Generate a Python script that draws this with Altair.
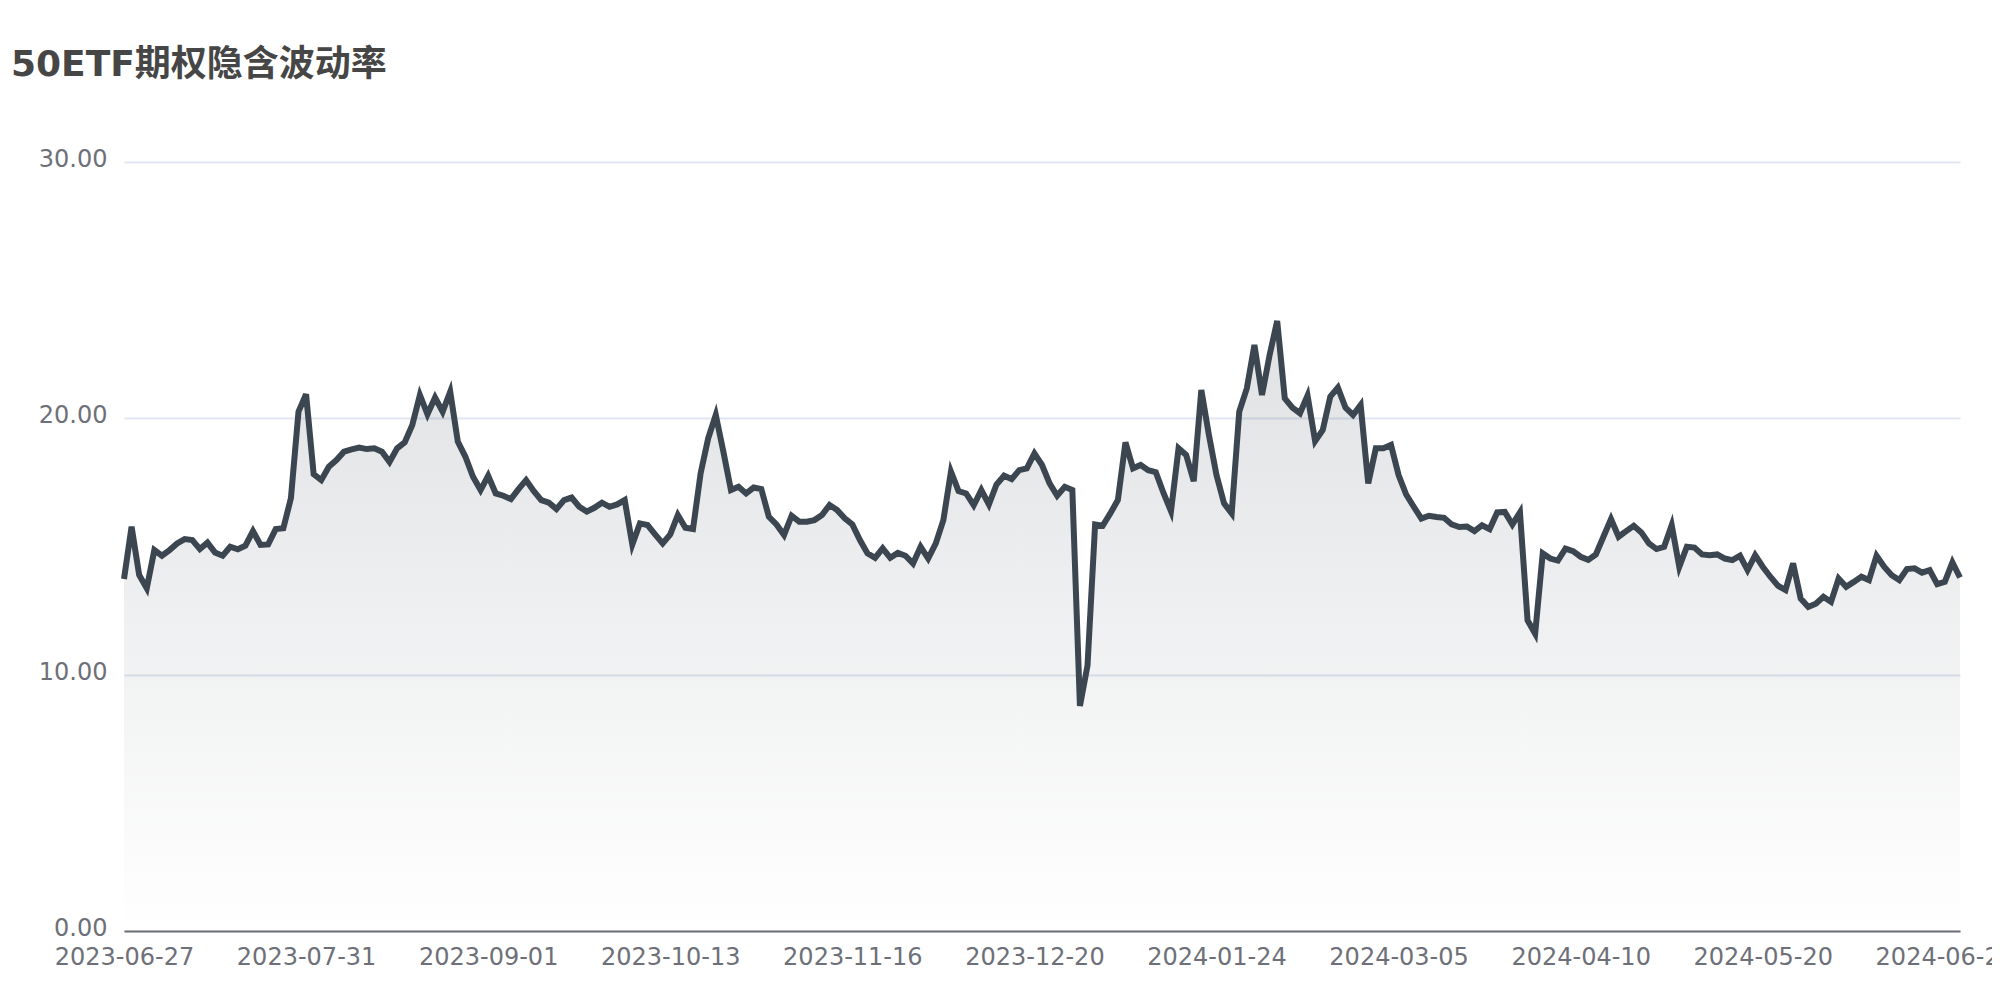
import altair as alt
import pandas as pd

# Implied volatility of 50ETF options, one value per trading day (index 0 = 2023-06-27)
iv_2023_jun_aug = [13.73, 15.77, 13.89, 13.37, 14.86, 14.64, 14.86, 15.12, 15.29, 15.25,
                   14.90, 15.15, 14.76, 14.64, 14.99, 14.89, 15.03, 15.60, 15.06, 15.08,
                   15.68, 15.71, 16.88, 20.26, 20.94, 17.82, 17.59, 18.11, 18.37, 18.70,
                   18.79, 18.86, 18.80, 18.83, 18.70, 18.30, 18.83, 19.06, 19.74, 20.91,
                   20.16, 20.81, 20.26, 21.04, 19.09, 18.50, 17.72, 17.20]
iv_2023_sep_nov = [17.76, 17.07, 16.98, 16.85, 17.24, 17.59, 17.17, 16.81, 16.71, 16.46,
                   16.81, 16.91, 16.55, 16.36, 16.51, 16.71, 16.55, 16.64, 16.81, 15.08,
                   15.90, 15.84, 15.47, 15.12, 15.47, 16.23, 15.73, 15.68, 17.85, 19.22,
                   20.13, 18.70, 17.20, 17.33, 17.07, 17.30, 17.24, 16.16, 15.86, 15.45,
                   16.20, 15.97, 15.97, 16.03, 16.23, 16.62, 16.42, 16.10]
iv_2023_nov_jan = [15.86, 15.25, 14.73, 14.56, 14.93, 14.56, 14.75, 14.64, 14.34, 14.99,
                   14.53, 15.12, 16.03, 17.92, 17.16, 17.07, 16.61, 17.20, 16.64, 17.42,
                   17.76, 17.63, 17.98, 18.05, 18.63, 18.18, 17.46, 16.98, 17.33, 17.20,
                   8.78, 10.36, 15.86, 15.81, 16.29, 16.81, 19.06, 18.05, 18.18, 17.98,
                   17.90, 17.10, 16.38, 18.83, 18.57, 17.55, 21.11, 19.35]
iv_2024_jan_apr = [17.79, 16.68, 16.29, 20.26, 21.17, 22.86, 20.91, 22.47, 23.80, 20.78,
                   20.42, 20.20, 20.89, 19.11, 19.54, 20.85, 21.20, 20.42, 20.13, 20.52,
                   17.46, 18.83, 18.83, 18.96, 17.79, 17.03, 16.55, 16.09, 16.20, 16.15,
                   16.12, 15.86, 15.76, 15.78, 15.60, 15.83, 15.68, 16.33, 16.35, 15.86,
                   16.33, 12.12, 11.60, 14.73, 14.53, 14.45, 14.92, 14.82]
iv_2024_apr_jun = [14.60, 14.48, 14.69, 15.38, 16.07, 15.38, 15.60, 15.81, 15.55, 15.12,
                   14.90, 14.99, 15.83, 14.21, 14.99, 14.96, 14.69, 14.66, 14.69, 14.53,
                   14.47, 14.64, 14.08, 14.66, 14.21, 13.82, 13.47, 13.30, 14.34, 12.97,
                   12.64, 12.77, 13.04, 12.84, 13.75, 13.43, 13.62, 13.82, 13.69, 14.64,
                   14.21, 13.88, 13.69, 14.12, 14.15, 13.98, 14.08, 13.53, 13.62, 14.38,
                   13.79]

# x-axis tick labels, one every 24 trading days
tick_labels = ["2023-06-27", "2023-07-31", "2023-09-01", "2023-10-13", "2023-11-16",
               "2023-12-20", "2024-01-24", "2024-03-05", "2024-04-10", "2024-05-20",
               "2024-06-24"]
tick_step = 24
y_ticks = [0, 10, 20, 30]

values = iv_2023_jun_aug + iv_2023_sep_nov + iv_2023_nov_jan + iv_2024_jan_apr + iv_2024_apr_jun
df = pd.DataFrame({"idx": list(range(len(values))), "iv": values})

label_array = "[" + ",".join("'" + t + "'" for t in tick_labels) + "]"
label_expr = label_array + "[round(datum.value / " + str(tick_step) + ")]"

FONT = "DejaVu Sans, Noto Sans CJK SC"
AXIS_COLOR = "#6E7079"
LINE_COLOR = "#3b4650"

x_enc = alt.X(
    "idx:Q",
    scale=alt.Scale(domain=[0, len(values) - 1], nice=False, zero=False),
    axis=alt.Axis(
        values=[i * tick_step for i in range(len(tick_labels))],
        labelExpr=label_expr,
        title=None,
        grid=False,
        ticks=False,
        domainColor=AXIS_COLOR,
        domainWidth=2,
        labelColor=AXIS_COLOR,
        labelFontSize=24,
        labelFont=FONT,
        labelPadding=14,
        labelAlign="center",
        labelFlush=False,
        labelOverlap=False,
        labelBound=False,
    ),
)
y_enc = alt.Y(
    "iv:Q",
    scale=alt.Scale(domain=[0, 30], nice=False),
    axis=alt.Axis(
        values=y_ticks,
        format=".2f",
        title=None,
        domain=False,
        ticks=False,
        gridColor="#E0E6F1",
        gridWidth=2,
        labelColor=AXIS_COLOR,
        labelFontSize=24,
        labelFont=FONT,
        labelPadding=17,
        labelBaseline="alphabetic",
        labelOffset=4.5,
    ),
)

area = alt.Chart(df).mark_area(
    color=alt.Gradient(
        gradient="linear",
        stops=[
            alt.GradientStop(color="rgba(59,70,80,0.16)", offset=0),
            alt.GradientStop(color="rgba(59,70,80,0.0)", offset=1),
        ],
        x1=0, x2=0, y1=0, y2=1,
    ),
).encode(x=x_enc, y=y_enc)

line = alt.Chart(df).mark_line(color=LINE_COLOR, strokeWidth=6).encode(x=x_enc, y=y_enc)

chart = (
    alt.layer(area, line)
    .properties(
        width=1836,
        height=769,
        autosize=alt.AutoSizeParams(type="none"),
        padding={"left": 116, "top": 154, "right": 32, "bottom": 61},
        background="white",
        title=alt.TitleParams(
            text="50ETF期权隐含波动率",
            anchor="start",
            frame="group",
            font=FONT,
            fontSize=36,
            fontWeight="bold",
            color="#464646",
            baseline="alphabetic",
            offset=36,
            dx=-113,
        ),
    )
    .configure_view(stroke=None)
)

chart.save("out.html", embed_options={"renderer": "svg", "actions": False})
